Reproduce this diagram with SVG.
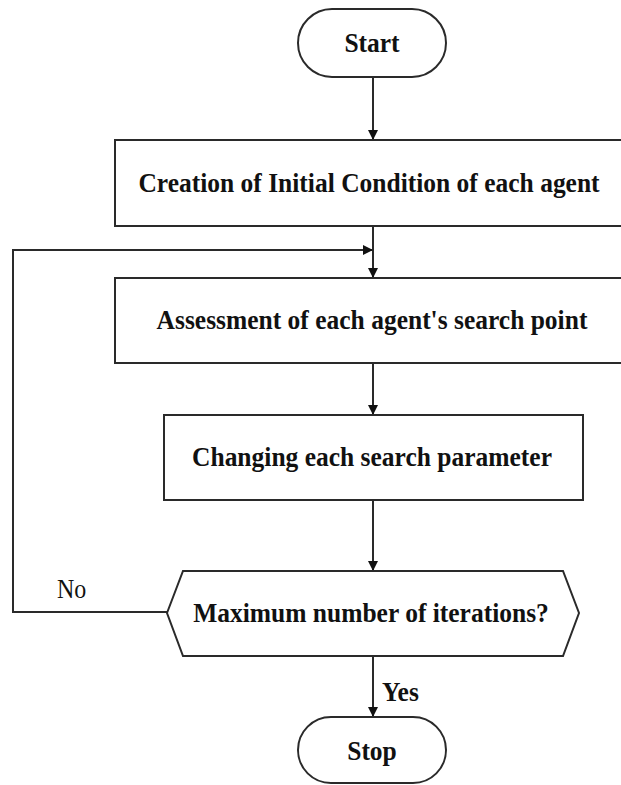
<svg xmlns="http://www.w3.org/2000/svg" width="621" height="785" viewBox="0 0 621 785">
<defs>
<style>
.shape{fill:#fff;stroke:#2a2a2a;stroke-width:2}
.lbl{font-family:"Liberation Serif","Times New Roman",serif;font-weight:bold;font-size:25.5px;fill:#111;text-anchor:middle}
.edge{fill:none;stroke:#2a2a2a;stroke-width:2}
.plain{font-family:"Liberation Serif","Times New Roman",serif;font-size:24px;fill:#111}
</style>
<marker id="arr" viewBox="0 0 10 10" refX="10" refY="5" markerWidth="10" markerHeight="10" markerUnits="userSpaceOnUse" orient="auto">
<path d="M0,0 L10,5 L0,10 z" fill="#111"/>
</marker>
</defs>
<rect width="621" height="785" fill="#fff"/>
<g id="connectors">
<line class="edge" x1="373" y1="77" x2="373" y2="140" marker-end="url(#arr)"/>
<line class="edge" x1="373" y1="226" x2="373" y2="278" marker-end="url(#arr)"/>
<polyline class="edge" points="167,612 13,612 13,250 373,250" marker-end="url(#arr)"/>
<line class="edge" x1="373" y1="363" x2="373" y2="415" marker-end="url(#arr)"/>
<line class="edge" x1="373" y1="500" x2="373" y2="571" marker-end="url(#arr)"/>
<line class="edge" x1="373" y1="656" x2="373" y2="717" marker-end="url(#arr)"/>
<text class="plain" transform="translate(57,598) scale(1,1.1)">No</text>
<text class="lbl" style="text-anchor:start" transform="translate(382,701) scale(1,1.1)">Yes</text>
</g>
<g id="start">
<rect class="shape" x="298" y="9" width="148" height="68" rx="34" ry="34"/>
<text class="lbl" transform="translate(372,52) scale(1,1.1)">Start</text>
</g>
<g id="init">
<rect class="shape" x="115" y="140" width="520" height="86"/>
<text class="lbl" transform="translate(369,192) scale(1,1.1)">Creation of Initial Condition of each agent</text>
</g>
<g id="assess">
<rect class="shape" x="115" y="278" width="520" height="85"/>
<text class="lbl" transform="translate(372,329) scale(1,1.1)">Assessment of each agent's search point</text>
</g>
<g id="change">
<rect class="shape" x="164" y="415" width="419" height="85"/>
<text class="lbl" transform="translate(372,466) scale(1,1.1)">Changing each search parameter</text>
</g>
<g id="decision">
<polygon class="shape" points="167,613 183,571 563,571 579,613 563,656 183,656"/>
<text class="lbl" transform="translate(371,622) scale(1,1.1)">Maximum number of iterations?</text>
</g>
<g id="stop">
<rect class="shape" x="298" y="717" width="148" height="66" rx="33" ry="33"/>
<text class="lbl" transform="translate(372,760) scale(1,1.1)">Stop</text>
</g>
</svg>
